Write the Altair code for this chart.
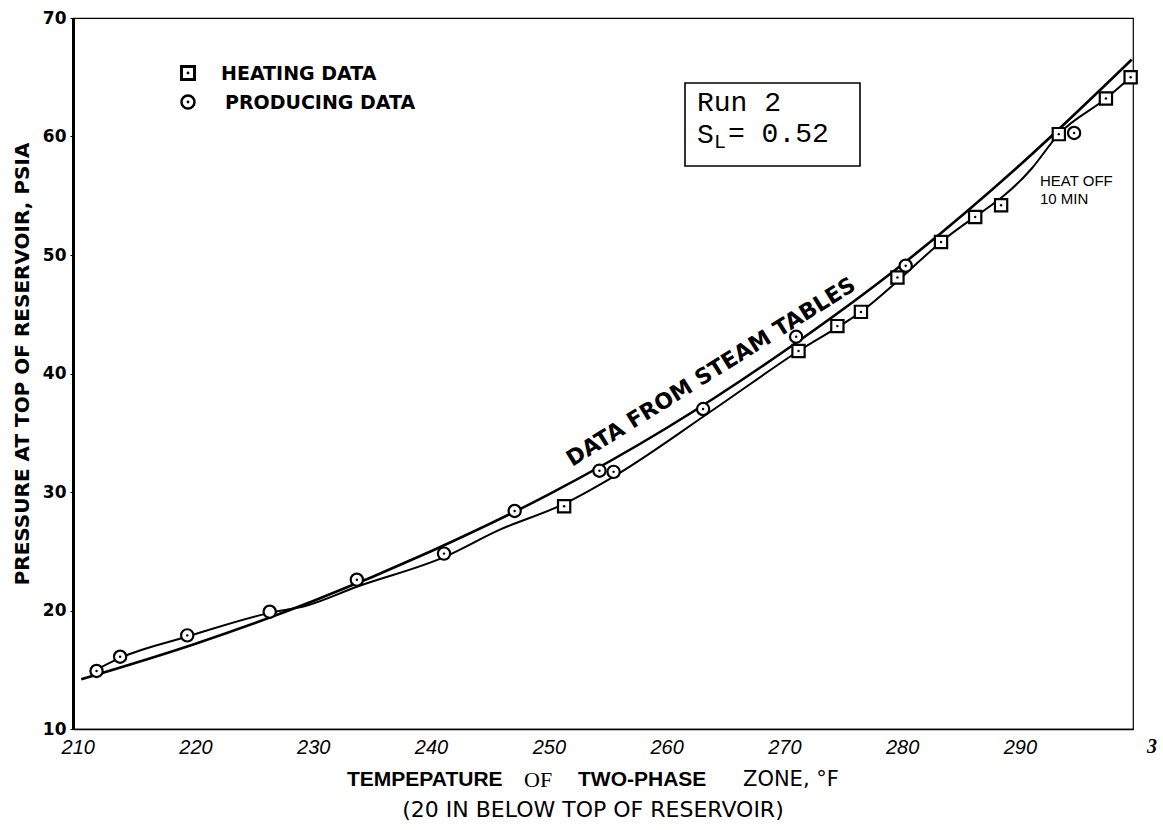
import altair as alt
import pandas as pd

# ---- data ----
heat_T = [251.3, 271.2, 274.5, 276.5, 279.6, 283.3, 286.2, 288.4, 293.3, 297.3, 299.4]
heat_P = [28.8, 41.9, 44.0, 45.2, 48.1, 51.1, 53.2, 54.2, 60.2, 63.2, 65.0]

prod_T = [211.6, 213.6, 219.3, 226.3, 233.7, 241.1, 247.1, 254.3, 255.5, 263.1, 271.0, 280.3, 294.6]
prod_P = [14.9, 16.1, 17.9, 19.9, 22.6, 24.8, 28.4, 31.8, 31.7, 37.0, 43.1, 49.1, 60.3]
prod_dot = [1, 1, 1, 0, 1, 1, 1, 1, 1, 1, 1, 1, 1]

steam_T = [210.3, 220, 230, 240, 250, 260, 270, 280, 290, 299.5]
steam_P = [14.2, 17.2, 20.8, 25.0, 29.8, 35.4, 41.9, 49.2, 57.6, 66.5]

fit_T = [211.2, 213.6, 219.3, 226.3, 229.4, 233.7, 241.1, 245.8, 251.3, 255.5, 263.9,
         271.2, 276.5, 283.3, 291.0, 293.3, 297.3, 299.4]
fit_P = [14.8, 16.0, 17.8, 19.8, 20.4, 22.0, 24.5, 26.8, 29.0, 31.3, 36.9,
         41.9, 45.2, 51.1, 57.3, 60.2, 63.2, 65.0]

x_ticks = [210, 220, 230, 240, 250, 260, 270, 280, 290]
y_ticks = [10, 20, 30, 40, 50, 60, 70]

W, H = 1060, 711

xs = alt.Scale(domain=[209.6, 299.6], nice=False, zero=False)
ys = alt.Scale(domain=[10, 70], nice=False, zero=False)

heat = pd.DataFrame({"T": heat_T, "P": heat_P})
prod = pd.DataFrame({"T": prod_T, "P": prod_P, "dot": prod_dot})
steam = pd.DataFrame({"T": steam_T, "P": steam_P})
fit = pd.DataFrame({"T": fit_T, "P": fit_P})

X = alt.X("T:Q", scale=xs,
          axis=alt.Axis(values=x_ticks, title=None, grid=False, tickSize=0,
                        labelPadding=8, labelFontSize=20, labelFontStyle="italic",
                        labelFont="Liberation Sans", labelColor="black",
                        domainColor="black", domainWidth=1.3))
Y = alt.Y("P:Q", scale=ys,
          axis=alt.Axis(values=y_ticks, title=None, grid=False, tickSize=3,
                        tickColor="black", labelPadding=4, labelFontSize=17,
                        labelFontWeight="bold", labelFont="DejaVu Sans",
                        labelColor="black", domainColor="black", domainWidth=3))

steam_line = alt.Chart(steam).mark_line(color="black", strokeWidth=2.6,
                                        interpolate="monotone").encode(x=X, y=Y)
fit_line = alt.Chart(fit).mark_line(color="black", strokeWidth=2.0,
                                    interpolate="monotone").encode(x="T:Q", y="P:Q")

heat_pts = alt.Chart(heat).mark_point(shape="square", size=150, filled=True,
                                      fill="white", stroke="black",
                                      strokeWidth=2.2, opacity=1).encode(x="T:Q", y="P:Q")
prod_pts = alt.Chart(prod).mark_point(shape="circle", size=150, filled=True,
                                      fill="white", stroke="black",
                                      strokeWidth=2.2, opacity=1).encode(x="T:Q", y="P:Q")
dots_h = alt.Chart(heat).mark_point(shape="circle", size=6, filled=True,
                                    color="black", opacity=1).encode(x="T:Q", y="P:Q")
dots_p = alt.Chart(prod).transform_filter("datum.dot == 1").mark_point(
    shape="circle", size=6, filled=True, color="black", opacity=1).encode(
    x="T:Q", y="P:Q")

OX, OY = 73, 18  # plot origin in the page


def txt(s, px, py, size, font="DejaVu Sans", weight="normal", style="normal",
        align="left", angle=0, baseline="middle"):
    kw = dict(fontSize=size, font=font, fontWeight=weight, fontStyle=style,
              align=align, baseline=baseline, color="black")
    if angle:
        kw["angle"] = angle
    return alt.Chart(pd.DataFrame({"t": [s]})).mark_text(**kw).encode(
        x=alt.value(px - OX), y=alt.value(py - OY), text="t:N")


# legend
leg_sq = alt.Chart(pd.DataFrame({"a": [0]})).mark_point(
    shape="square", size=170, filled=True, fill="white", stroke="black",
    strokeWidth=3, opacity=1).encode(x=alt.value(188 - OX), y=alt.value(73 - OY))
leg_ci = alt.Chart(pd.DataFrame({"a": [0]})).mark_point(
    shape="circle", size=170, filled=True, fill="white", stroke="black",
    strokeWidth=2.5, opacity=1).encode(x=alt.value(188 - OX), y=alt.value(102 - OY))
leg_d = alt.Chart(pd.DataFrame({"yy": [73 - OY, 102 - OY]})).mark_point(
    shape="circle", size=8, filled=True, color="black", opacity=1).encode(
    x=alt.value(188 - OX), y=alt.Y("yy:Q", scale=None))

# Run 2 box
box = alt.Chart(pd.DataFrame({"a": [0]})).mark_rect(
    fill="white", stroke="black", strokeWidth=1.6).encode(
    x=alt.value(685 - OX), x2=alt.value(860 - OX),
    y=alt.value(83 - OY), y2=alt.value(166 - OY))

texts = [
    txt("HEATING DATA", 221, 74, 19, weight="bold"),
    txt("PRODUCING DATA", 225, 103, 19, weight="bold"),
    txt("Run 2", 697, 103, 28, font="Liberation Mono"),
    txt("S", 697, 135, 28, font="Liberation Mono"),
    txt("L", 714, 142, 20, font="Liberation Mono"),
    txt("= 0.52", 728, 134, 28, font="Liberation Mono"),
    txt("DATA FROM STEAM TABLES", 711, 372, 22, weight="bold", angle=328,
        align="center"),
    txt("HEAT OFF", 1040, 181, 15, font="Liberation Sans"),
    txt("10 MIN", 1040, 199, 15, font="Liberation Sans"),
    txt("TEMPEPATURE", 347, 780, 21, font="Liberation Sans", weight="bold"),
    txt("OF", 524, 780, 22, font="Liberation Serif"),
    txt("TWO-PHASE", 578, 780, 21, font="Liberation Sans", weight="bold"),
    txt("ZONE, °F", 743, 780, 21, font="DejaVu Sans"),
    txt("(20 IN BELOW TOP OF RESERVOIR)", 593, 810, 22, align="center"),
    txt("PRESSURE AT TOP OF RESERVOIR, PSIA", 23, 364, 20, weight="bold",
        align="center", angle=270),
    txt("3", 1152, 747, 20, font="Liberation Serif", weight="bold", style="italic",
        align="center"),
]

chart = alt.layer(
    steam_line, fit_line, heat_pts, prod_pts, dots_h, dots_p,
    leg_sq, leg_ci, leg_d, box, *texts
).properties(
    width=W, height=H,
    autosize=alt.AutoSizeParams(type="none"),
    padding={"left": OX, "top": OY, "right": 1163 - OX - W, "bottom": 830 - OY - H},
    background="white",
).configure_view(stroke="black", strokeWidth=1.2)

chart.save("out.html", embed_options={"renderer": "svg", "actions": False})
